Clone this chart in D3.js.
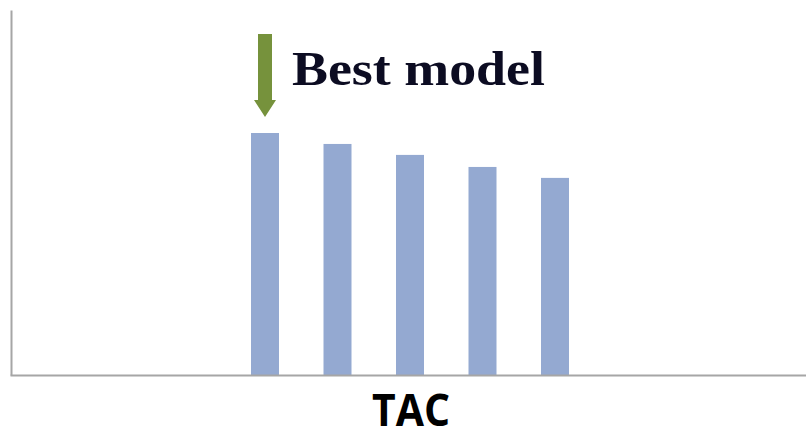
<!DOCTYPE html>
<html><head><meta charset="utf-8">
<script src="https://cdn.jsdelivr.net/npm/d3@7"></script>
<style>html,body{margin:0;padding:0;background:#fff;}svg{display:block;}</style>
</head><body>
<svg id="chart" width="806" height="430"></svg>
<script>
const categories = ["M1", "M2", "M3", "M4", "M5"];
const values = [66.3, 63.3, 60.3, 57.0, 54.0];
const axisTitle = "TAC";
const annotation = "Best model";
const bestIndex = 0;

(function () {
const svg = d3.select("#chart");
const W = 806, H = 430;
const mLeft = 11, mBottom = 375, mTop = 10;

const x = d3.scalePoint().domain(categories).range([265, 555]).padding(0);
const y = d3.scaleLinear().domain([0, 100]).range([mBottom, mTop]);
const barW = 28;

// bars
svg.selectAll("rect.bar").data(values).join("rect")
  .attr("class", "bar")
  .attr("x", (d, i) => x(categories[i]) - barW / 2)
  .attr("y", d => y(d))
  .attr("width", barW)
  .attr("height", d => y(0) - y(d))
  .attr("fill", "#94a9d1");

// axes
const yAxis = d3.axisLeft(y).tickValues([]).tickSizeOuter(0);
svg.append("g").attr("transform", `translate(${mLeft},0)`).call(yAxis)
  .select("path").attr("stroke", "#a6a6a6").attr("stroke-width", 2);
const xLine = d3.scaleLinear().domain([0, 1]).range([mLeft - 1, W]);
const xAxis = d3.axisBottom(xLine).tickValues([]).tickSizeOuter(0);
svg.append("g").attr("transform", `translate(0,${mBottom})`).call(xAxis)
  .select("path").attr("stroke", "#a6a6a6").attr("stroke-width", 2);

// axis title
svg.append("text")
  .attr("x", 411).attr("y", 426)
  .attr("text-anchor", "middle")
  .attr("font-family", "Open Sans, sans-serif")
  .attr("font-weight", "bold")
  .attr("font-size", 44)
  .attr("textLength", 78)
  .attr("lengthAdjust", "spacingAndGlyphs")
  .attr("fill", "#000")
  .text(axisTitle);

// arrow pointing to best bar
const bx = x(categories[bestIndex]);
const tipY = y(values[bestIndex]) - 16;
const arrow = d3.path();
arrow.moveTo(bx - 7, 34);
arrow.lineTo(bx + 7, 34);
arrow.lineTo(bx + 7, tipY - 17);
arrow.lineTo(bx + 11, tipY - 17);
arrow.lineTo(bx, tipY);
arrow.lineTo(bx - 11, tipY - 17);
arrow.lineTo(bx - 7, tipY - 17);
arrow.closePath();
svg.append("path").attr("d", arrow.toString()).attr("fill", "#76923c");

// annotation
svg.append("text")
  .attr("x", 292).attr("y", 85)
  .attr("font-family", "Liberation Serif, serif")
  .attr("font-weight", "bold")
  .attr("font-size", 48)
  .attr("textLength", 253)
  .attr("lengthAdjust", "spacingAndGlyphs")
  .attr("fill", "#0c0c22")
  .text(annotation);
})();
</script>
</body></html>
